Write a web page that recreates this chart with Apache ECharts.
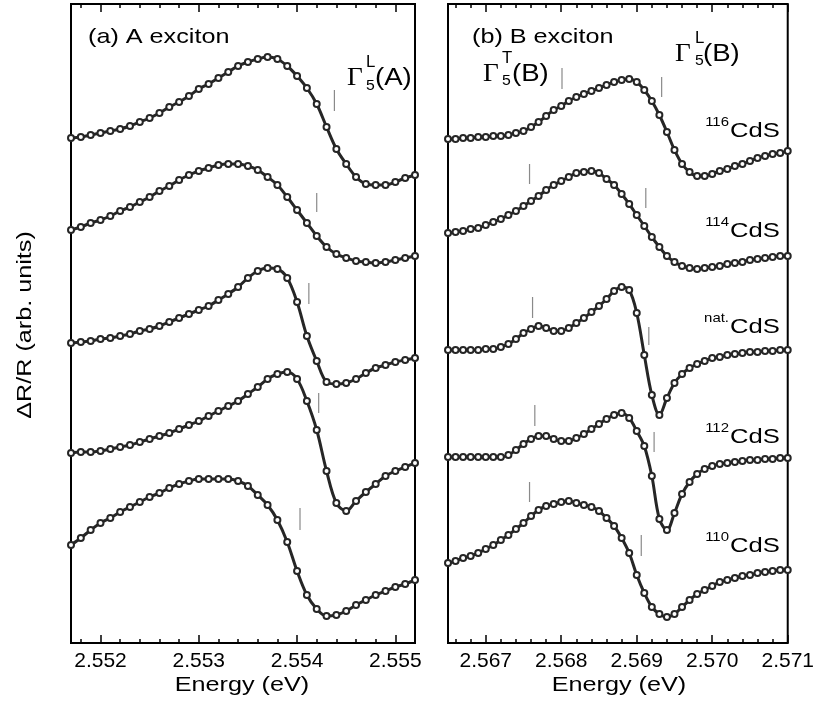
<!DOCTYPE html>
<html>
<head>
<meta charset="utf-8">
<script src="https://cdn.jsdelivr.net/npm/echarts@6/dist/echarts.min.js"></script>
<style>
html, body { margin: 0; padding: 0; background: #fff; }
#chart { width: 817px; height: 708px; }
</style>
</head>
<body>
<div id="chart"></div>
<script>
// photon energy (eV), panel (a) A exciton
const energyA = [2.5517, 2.5518, 2.5519, 2.5520, 2.5521, 2.5522, 2.5523, 2.5524, 2.5525, 2.5526,
  2.5527, 2.5528, 2.5529, 2.5530, 2.5531, 2.5532, 2.5533, 2.5534, 2.5535, 2.5536,
  2.5537, 2.5538, 2.5539, 2.5540, 2.5541, 2.5542, 2.5543, 2.5544, 2.5545, 2.5546,
  2.5547, 2.5548, 2.5549, 2.5550, 2.5551, 2.5552]
// photon energy (eV), panel (b) B exciton
const energyB = [2.5665, 2.5666, 2.5667, 2.5668, 2.5669, 2.5670, 2.5671, 2.5672, 2.5673, 2.5674,
  2.5675, 2.5676, 2.5677, 2.5678, 2.5679, 2.5680, 2.5681, 2.5682, 2.5683, 2.5684,
  2.5685, 2.5686, 2.5687, 2.5688, 2.5689, 2.5690, 2.5691, 2.5692, 2.5693, 2.5694,
  2.5695, 2.5696, 2.5697, 2.5698, 2.5699, 2.5700, 2.5701, 2.5702, 2.5703, 2.5704,
  2.5705, 2.5706, 2.5707, 2.5708, 2.5709, 2.5710]

// ΔR/R (arb. units, curves stacked top -> bottom: 116, 114, nat., 112, 110)
const a116 = [50.5, 50.6, 50.8, 51.0, 51.2, 51.4, 51.7, 52.1, 52.5, 53.0, 53.6, 54.1, 54.7, 55.4, 55.9, 56.5, 57.1, 57.7, 58.1, 58.4, 58.6, 58.4, 57.7, 56.7, 55.5, 53.9, 51.6, 49.4, 47.9, 46.6, 45.9, 45.8, 45.8, 46.1, 46.5, 46.8]
const a114 = [41.3, 41.6, 42.0, 42.3, 42.7, 43.2, 43.6, 44.1, 44.6, 45.2, 45.7, 46.3, 46.8, 47.2, 47.5, 47.8, 47.9, 47.9, 47.7, 47.3, 46.6, 45.8, 44.6, 43.3, 42.0, 40.7, 39.6, 38.9, 38.5, 38.2, 38.1, 38.0, 38.1, 38.3, 38.5, 38.7]
const aNat = [30.0, 30.1, 30.2, 30.4, 30.5, 30.7, 30.9, 31.2, 31.4, 31.7, 32.1, 32.5, 32.9, 33.3, 33.7, 34.3, 34.9, 35.6, 36.5, 37.2, 37.5, 37.4, 36.5, 34.1, 30.7, 28.2, 26.1, 25.9, 26.0, 26.4, 27.0, 27.5, 27.8, 28.1, 28.3, 28.5]
const a112 = [19.0, 19.1, 19.1, 19.2, 19.4, 19.6, 19.8, 20.1, 20.4, 20.7, 21.0, 21.4, 21.8, 22.2, 22.7, 23.2, 23.7, 24.2, 24.9, 25.6, 26.4, 26.9, 27.1, 26.4, 24.2, 21.3, 17.2, 14.0, 13.2, 14.2, 15.1, 15.9, 16.7, 17.2, 17.6, 18.0]
const a110 = [9.8, 10.5, 11.3, 12.0, 12.5, 13.1, 13.6, 14.1, 14.6, 15.0, 15.5, 15.9, 16.2, 16.4, 16.4, 16.4, 16.4, 16.2, 15.7, 14.8, 13.8, 12.3, 10.1, 7.2, 4.8, 3.4, 2.7, 2.8, 3.2, 3.8, 4.3, 4.8, 5.2, 5.6, 5.9, 6.3]

const b116 = [50.4, 50.4, 50.5, 50.5, 50.6, 50.6, 50.7, 50.7, 50.8, 51.0, 51.2, 51.6, 52.1, 52.7, 53.3, 53.7, 54.2, 54.6, 54.9, 55.2, 55.5, 55.8, 56.1, 56.3, 56.4, 56.1, 55.3, 54.2, 52.8, 51.1, 49.3, 47.9, 47.1, 46.7, 46.7, 46.9, 47.2, 47.4, 47.7, 47.9, 48.2, 48.5, 48.7, 48.9, 49.0, 49.2]
const b114 = [41.0, 41.1, 41.2, 41.4, 41.5, 41.8, 42.1, 42.4, 42.8, 43.2, 43.7, 44.2, 44.7, 45.3, 45.8, 46.2, 46.6, 47.0, 47.1, 47.2, 47.0, 46.4, 45.8, 44.9, 43.9, 42.8, 41.7, 40.6, 39.6, 38.7, 38.1, 37.7, 37.5, 37.4, 37.5, 37.6, 37.7, 37.9, 38.0, 38.1, 38.3, 38.4, 38.5, 38.6, 38.7, 38.7]
const bNat = [29.3, 29.3, 29.3, 29.3, 29.3, 29.4, 29.4, 29.6, 29.9, 30.4, 31.0, 31.4, 31.7, 31.5, 31.2, 31.2, 31.5, 32.0, 32.5, 33.1, 33.7, 34.4, 35.2, 35.6, 35.3, 33.0, 28.8, 24.8, 22.8, 24.5, 26.0, 26.9, 27.5, 27.9, 28.2, 28.5, 28.6, 28.8, 28.9, 29.0, 29.1, 29.1, 29.2, 29.2, 29.3, 29.3]
const b112 = [18.6, 18.6, 18.6, 18.6, 18.6, 18.6, 18.6, 18.6, 18.8, 19.3, 19.9, 20.4, 20.7, 20.7, 20.4, 20.2, 20.2, 20.5, 20.9, 21.4, 21.9, 22.4, 22.8, 23.0, 22.5, 21.2, 19.7, 16.7, 12.4, 11.3, 13.0, 14.9, 16.1, 16.9, 17.4, 17.7, 17.9, 18.0, 18.1, 18.2, 18.3, 18.3, 18.4, 18.4, 18.5, 18.5]
const b110 = [8.0, 8.2, 8.5, 8.7, 9.0, 9.4, 9.8, 10.3, 10.8, 11.4, 12.0, 12.7, 13.3, 13.7, 13.9, 14.1, 14.2, 14.0, 13.8, 13.6, 13.2, 12.5, 11.7, 10.5, 9.0, 6.8, 5.0, 3.6, 2.9, 2.6, 2.9, 3.6, 4.3, 4.9, 5.3, 5.7, 6.1, 6.3, 6.5, 6.7, 6.8, 7.0, 7.1, 7.2, 7.3, 7.3]

// resonance positions (short grey bars): energy, bar top, bar bottom
const markAEnergy = [2.55438, 2.55420, 2.55412, 2.55422, 2.55403]
const markATop = [55.3, 45.0, 36.0, 25.0, 13.5]
const markABottom = [53.2, 43.1, 33.9, 23.0, 11.3]
const markBEnergy = [2.56801, 2.56933, 2.56758, 2.56912, 2.56762, 2.56916, 2.56765, 2.56923, 2.56758, 2.56906]
const markBTop = [57.5, 56.6, 47.9, 45.5, 34.6, 31.6, 23.8, 21.1, 16.1, 10.8]
const markBBottom = [55.4, 54.6, 45.9, 43.5, 32.5, 29.8, 21.7, 19.1, 14.1, 8.7]

// axis ticks
const majorA = [2.552, 2.553, 2.554, 2.555]
const minorA = [2.5518, 2.5522, 2.5524, 2.5526, 2.5528, 2.5532, 2.5534, 2.5536, 2.5538, 2.5542, 2.5544, 2.5546, 2.5548]
const majorB = [2.567, 2.568, 2.569, 2.570, 2.571]
const minorB = [2.5666, 2.5668, 2.5672, 2.5674, 2.5676, 2.5678, 2.5682, 2.5684, 2.5686, 2.5688,
  2.5692, 2.5694, 2.5696, 2.5698, 2.5702, 2.5704, 2.5706, 2.5708]

const curvesA = [a116, a114, aNat, a112, a110]
const curvesB = [b116, b114, bNat, b112, b110]

const chart = echarts.init(document.getElementById('chart'))

const SANS = '"Liberation Sans", Arial, Helvetica, sans-serif'
const SERIF = '"Liberation Serif", "Times New Roman", serif'
const INK = '#262626'

function xAxisPair(grid, min, max, major, minor, pos) {
  const base = {
    gridIndex: grid, type: 'value', min: min, max: max, position: pos,
    axisLine: { show: false }, splitLine: { show: false }
  }
  return [
    Object.assign({}, base, {
      axisTick: { show: true, inside: true, length: 8, customValues: major, lineStyle: { color: '#000', width: 1.5 } },
      axisLabel: {
        show: pos === 'bottom', customValues: major, margin: 8,
        color: '#000', fontSize: 21, fontFamily: SANS,
        formatter: v => v.toFixed(3)
      }
    }),
    Object.assign({}, base, {
      axisTick: { show: true, inside: true, length: 4, customValues: minor, lineStyle: { color: '#000', width: 1.5 } },
      axisLabel: { show: false }
    })
  ]
}

const xAxes = [].concat(
  xAxisPair(0, 2.5517, 2.5552, majorA, minorA, 'bottom'),
  xAxisPair(0, 2.5517, 2.5552, majorA, minorA, 'top'),
  xAxisPair(1, 2.5665, 2.5710, majorB, minorB, 'bottom'),
  xAxisPair(1, 2.5665, 2.5710, majorB, minorB, 'top')
)

const yAxes = [0, 1].map(g => ({ gridIndex: g, type: 'value', min: 0, max: 63.9, show: false }))

// measured points (open circles) with the fitted line through them
function curveSeries(energy, values, xi, yi) {
  return {
    type: 'line', xAxisIndex: xi, yAxisIndex: yi,
    data: energy.map((e, i) => [e, values[i]]),
    smooth: 0.35,
    showAllSymbol: true,
    symbol: 'emptyCircle', symbolSize: 6,
    lineStyle: { color: INK, width: 3 },
    itemStyle: { color: INK, borderColor: INK, borderWidth: 1.8 },
    silent: true
  }
}

function markSeries(e, top, bottom, xi, yi) {
  return e.map((v, i) => ({
    type: 'line', xAxisIndex: xi, yAxisIndex: yi,
    data: [[v, top[i]], [v, bottom[i]]],
    symbol: 'none',
    lineStyle: { color: '#8a8a8a', width: 1.2 },
    silent: true
  }))
}

const series = [].concat(
  curvesA.map(c => curveSeries(energyA, c, 0, 0)),
  curvesB.map(c => curveSeries(energyB, c, 4, 1)),
  markSeries(markAEnergy, markATop, markABottom, 0, 0),
  markSeries(markBEnergy, markBTop, markBBottom, 4, 1)
)

function txt(x, y, s, size, opt) {
  opt = opt || {}
  return {
    type: 'text', x: x, y: y, z: 100,
    rotation: opt.rotation || 0,
    scaleX: opt.scaleX || 1.2,
    style: {
      text: s,
      font: size + 'px ' + (opt.family || SANS),
      fill: '#000',
      textAlign: opt.align || 'left', align: opt.align || 'left',
      textVerticalAlign: 'middle', verticalAlign: 'middle'
    }
  }
}

// isotope labels on panel (b)
const isoSup = ['116', '114', 'nat.', '112', '110']
const isoY = [131, 231, 327, 437, 546]

const graphics = [
  txt(88, 37, '(a) A exciton', 21),
  txt(472, 37, '(b) B exciton', 21),
  // Γ5L(A)
  txt(347, 78, 'Γ', 26, { family: SERIF, scaleX: 1.05 }),
  txt(366, 63, 'L', 16, { scaleX: 1.05 }),
  txt(366, 86, '5', 15, { scaleX: 1.05 }),
  txt(375, 79, '(A)', 23, { scaleX: 1.2 }),
  // Γ5T(B)
  txt(483, 74, 'Γ', 26, { family: SERIF, scaleX: 1.05 }),
  txt(502, 59, 'T', 16, { scaleX: 1.05 }),
  txt(502, 81, '5', 15, { scaleX: 1.05 }),
  txt(512, 75, '(B)', 23, { scaleX: 1.2 }),
  // Γ5L(B)
  txt(675, 54, 'Γ', 26, { family: SERIF, scaleX: 1.05 }),
  txt(695, 39, 'L', 16, { scaleX: 1.05 }),
  txt(695, 61, '5', 15, { scaleX: 1.05 }),
  txt(703, 55, '(B)', 23, { scaleX: 1.2 }),
  // axis titles
  txt(242, 685, 'Energy (eV)', 21, { align: 'center', scaleX: 1.2 }),
  txt(619, 685, 'Energy (eV)', 21, { align: 'center', scaleX: 1.2 }),
  txt(25, 325, 'ΔR/R (arb. units)', 21, { align: 'center', scaleX: 1.2, rotation: Math.PI / 2 })
]
isoSup.forEach((s, i) => {
  graphics.push(txt(729, isoY[i] - 9, s, 13, { align: 'right', scaleX: 1.15 }))
  graphics.push(txt(730, isoY[i], 'CdS', 21, { scaleX: 1.22 }))
})

const option = {
  animation: false,
  backgroundColor: '#fff',
  grid: [
    { left: 71, right: 402, top: 4, bottom: 65, show: true, borderColor: '#000', borderWidth: 2, backgroundColor: 'transparent' },
    { left: 448, right: 26, top: 4, bottom: 65, show: true, borderColor: '#000', borderWidth: 2, backgroundColor: 'transparent' }
  ],
  xAxis: xAxes,
  yAxis: yAxes,
  series: series,
  graphic: { elements: graphics }
}

chart.setOption(option)
</script>
</body>
</html>
